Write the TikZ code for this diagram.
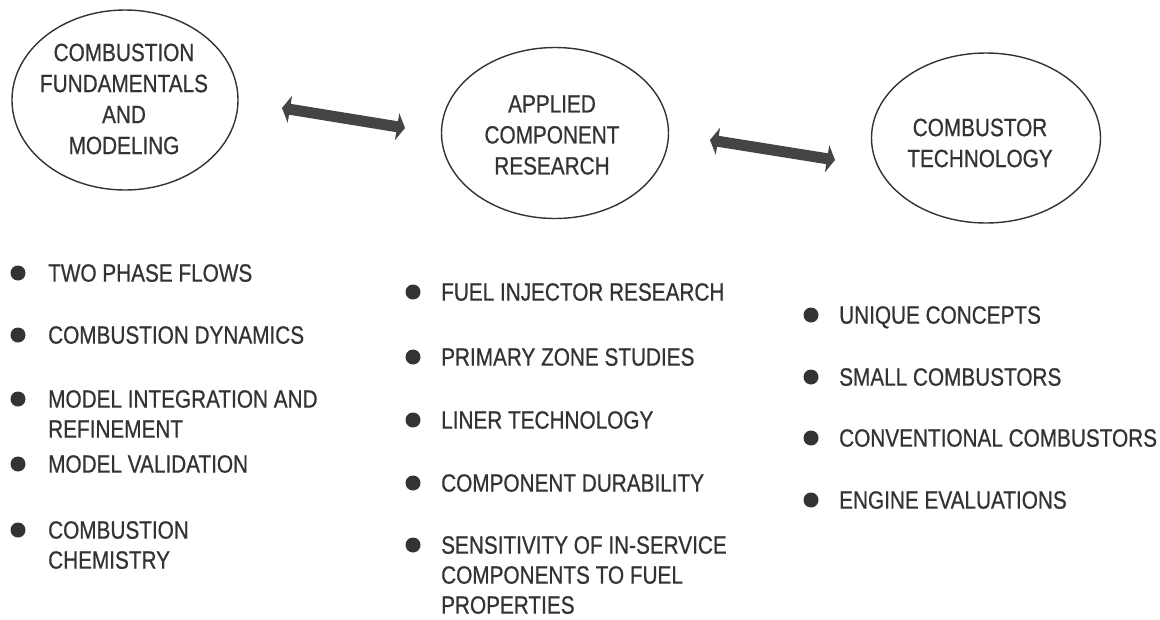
\documentclass[tikz,border=0pt]{standalone}
\usepackage{fontspec}
\setmainfont{Liberation Sans}[FakeStretch=0.83,FakeBold=0.6]
\usetikzlibrary{arrows.meta,shapes.geometric}
\definecolor{ink}{HTML}{333333}
\definecolor{arrowgray}{HTML}{444444}
\begin{document}
\begin{tikzpicture}[x=1pt,y=-1pt,
  bubble/.style={draw=ink, line width=1.4pt, ellipse, inner sep=0pt},
  bubbletext/.style={align=center, text=ink, font=\fontsize{25}{31}\selectfont, inner sep=0pt},
  dot/.style={circle, fill=ink, inner sep=0pt, minimum size=15pt},
  item/.style={anchor=north west, align=left, text=ink, font=\fontsize{25}{30}\selectfont, inner sep=0pt},
  link/.style={draw=arrowgray, line width=11pt, {Triangle[width=27pt,length=8pt]}-{Triangle[width=27pt,length=8pt]}}
]
\useasboundingbox[fill=white] (0,0) rectangle (1160,619);

% bubbles
\node[bubble, minimum width=226pt, minimum height=180pt] (fund) at (125,100) {};
\node[bubbletext] (fundtxt) at (124,99) {COMBUSTION\\FUNDAMENTALS\\AND\\MODELING};
\node[bubble, minimum width=227pt, minimum height=171pt] (appl) at (555,133) {};
\node[bubbletext] (appltxt) at (552,135) {APPLIED\\COMPONENT\\RESEARCH};
\node[bubble, minimum width=229pt, minimum height=170pt] (tech) at (986,138) {};
\node[bubbletext] (techtxt) at (980,143) {COMBUSTOR\\TECHNOLOGY};

% connectors
\coordinate (l1a) at (282,108);
\coordinate (l1b) at (405,128);
\coordinate (l2a) at (710,140);
\coordinate (l2b) at (835,160);
\draw[link] (l1a) -- (l1b);
\draw[link] (l2a) -- (l2b);

% column 1
\node[dot] (d11) at (18,273) {};
\node[item] (t11) at (48,264) {TWO PHASE FLOWS};
\node[dot] (d12) at (18,335) {};
\node[item] (t12) at (48,326) {COMBUSTION DYNAMICS};
\node[dot] (d13) at (18,399) {};
\node[item] (t13) at (48,390) {MODEL INTEGRATION AND\\REFINEMENT};
\node[dot] (d14) at (18,464) {};
\node[item] (t14) at (48,455) {MODEL VALIDATION};
\node[dot] (d15) at (18,530) {};
\node[item] (t15) at (48,521) {COMBUSTION\\CHEMISTRY};

% column 2
\node[dot] (d21) at (413,292) {};
\node[item] (t21) at (441,283) {FUEL INJECTOR RESEARCH};
\node[dot] (d22) at (413,357) {};
\node[item] (t22) at (441,348) {PRIMARY ZONE STUDIES};
\node[dot] (d23) at (413,420) {};
\node[item] (t23) at (441,411) {LINER TECHNOLOGY};
\node[dot] (d24) at (413,483) {};
\node[item] (t24) at (441,474) {COMPONENT DURABILITY};
\node[dot] (d25) at (413,545) {};
\node[item] (t25) at (441,536) {SENSITIVITY OF IN-SERVICE\\COMPONENTS TO FUEL\\PROPERTIES};

% column 3
\node[dot] (d31) at (811,315) {};
\node[item] (t31) at (839,306) {UNIQUE CONCEPTS};
\node[dot] (d32) at (811,377) {};
\node[item] (t32) at (839,368) {SMALL COMBUSTORS};
\node[dot] (d33) at (811,438) {};
\node[item] (t33) at (839,429) {CONVENTIONAL COMBUSTORS};
\node[dot] (d34) at (811,500) {};
\node[item] (t34) at (839,491) {ENGINE EVALUATIONS};
\end{tikzpicture}
\end{document}
